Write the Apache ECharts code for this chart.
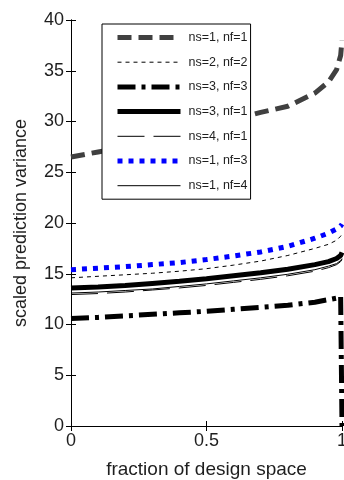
<!DOCTYPE html>
<html>
<head>
<meta charset="utf-8">
<script src="https://cdn.jsdelivr.net/npm/echarts@6/dist/echarts.min.js"></script>
<style>
  html, body { margin: 0; padding: 0; background: #fff; }
  #chart { width: 344px; height: 480px; }
</style>
</head>
<body>
<div id="chart"></div>
<script>
var fractions = [0, 0.1, 0.2, 0.3, 0.4, 0.5, 0.6, 0.7, 0.8, 0.9, 0.95, 0.98, 0.995, 1];

var ns1nf1 = [26.5, 27.0, 27.5, 28.1, 28.8, 29.5, 30.2, 30.9, 31.5, 32.8, 33.9, 35.1, 36.5, 38.0];
var ns2nf2 = [14.6, 14.75, 14.9, 15.05, 15.25, 15.5, 15.85, 16.25, 16.8, 17.5, 17.9, 18.3, 18.7, 18.9];
var ns3nf3 = [10.6, 10.7, 10.85, 11.0, 11.15, 11.3, 11.5, 11.7, 11.9, 12.2, 12.45, 12.6, 12.8, 0];
var ns3nf1 = [13.6, 13.7, 13.85, 14.05, 14.25, 14.5, 14.8, 15.1, 15.45, 15.9, 16.2, 16.5, 16.8, 17.1];
var ns4nf1 = [12.95, 13.05, 13.2, 13.4, 13.6, 13.85, 14.15, 14.45, 14.8, 15.25, 15.6, 15.9, 16.2, 16.4];
var ns1nf3 = [15.4, 15.55, 15.7, 15.9, 16.1, 16.4, 16.75, 17.15, 17.7, 18.5, 19.0, 19.4, 19.7, 19.9];
var ns1nf4 = [13.1, 13.2, 13.35, 13.5, 13.75, 14.0, 14.3, 14.6, 14.95, 15.4, 15.75, 16.0, 16.3, 16.5];

var seriesNames = ['ns=1, nf=1', 'ns=2, nf=2', 'ns=3, nf=3', 'ns=3, nf=1', 'ns=4, nf=1', 'ns=1, nf=3', 'ns=1, nf=4'];
var seriesValues = [ns1nf1, ns2nf2, ns3nf3, ns3nf1, ns4nf1, ns1nf3, ns1nf4];

// line look per series, same order as seriesNames
var lineLooks = [
  { color: '#404040', width: 5, type: [14, 7] },
  { color: '#000', width: 1, type: [4, 4] },
  { color: '#000', width: 5, type: [18, 6, 4, 6] },
  { color: '#000', width: 5, type: 'solid' },
  { color: '#000', width: 1, type: [27, 9] },
  { color: '#0000ff', width: 5, type: [5, 6] },
  { color: '#000', width: 1, type: 'solid' }
];

var ink = '#1e1e1e';
var font = 'Arial, "Liberation Sans", sans-serif';

function pairs(vals) {
  return fractions.map(function(f, i) { return [f, vals[i]]; });
}

var series = seriesNames.map(function(name, i) {
  var look = lineLooks[i];
  return {
    name: name,
    type: 'line',
    data: pairs(seriesValues[i]),
    symbol: 'none',
    showSymbol: false,
    lineStyle: { color: look.color, width: look.width, type: look.type },
    itemStyle: { color: look.color }
  };
});

var legendData = seriesNames.map(function(name, i) {
  var look = lineLooks[i];
  return {
    name: name,
    itemStyle: { opacity: 0 },
    lineStyle: { color: look.color, width: look.width, type: look.type }
  };
});

var chart = echarts.init(document.getElementById('chart'), null, { renderer: 'canvas' });
chart.setOption({
  animation: false,
  backgroundColor: '#fff',
  grid: { left: 71, right: 2, top: 20, bottom: 54, outerBoundsMode: 'none' },
  legend: {
    orient: 'vertical',
    left: 102,
    top: 24,
    padding: [7, 3, 7, 13],
    itemWidth: 63,
    itemHeight: 14,
    itemGap: 11.7,
    borderColor: '#000',
    borderWidth: 1,
    backgroundColor: '#fff',
    textStyle: { color: ink, fontSize: 12.5, fontFamily: font, padding: [0, 0, 0, 3] },
    data: legendData
  },
  xAxis: [{
    type: 'value',
    min: 0, max: 1, interval: 0.5,
    name: 'fraction of design space',
    nameLocation: 'middle',
    nameGap: 34,
    nameTextStyle: { color: ink, fontSize: 19, fontFamily: font },
    axisLine: { lineStyle: { color: '#000', width: 1 } },
    axisTick: { inside: true, length: 5, lineStyle: { color: '#000' } },
    axisLabel: { color: ink, fontSize: 18, fontFamily: font, margin: 6 },
    splitLine: { show: false }
  }, {
    type: 'value',
    position: 'top',
    min: 0, max: 1, interval: 0.5,
    axisLine: { lineStyle: { color: '#000', width: 1 } },
    axisTick: { inside: true, length: 5, lineStyle: { color: '#000' } },
    axisLabel: { show: false },
    splitLine: { show: false }
  }],
  yAxis: [{
    type: 'value',
    min: 0, max: 40, interval: 5,
    name: 'scaled prediction variance',
    nameLocation: 'middle',
    nameGap: 41,
    nameTextStyle: { color: ink, fontSize: 18, fontFamily: font },
    axisLine: { show: true, lineStyle: { color: '#000', width: 1 } },
    axisTick: { show: true, inside: true, length: 5, lineStyle: { color: '#000' } },
    axisLabel: { color: ink, fontSize: 18, fontFamily: font, margin: 7 },
    splitLine: { show: false }
  }, {
    type: 'value',
    position: 'right',
    min: 0, max: 40, interval: 5,
    axisLine: { show: true, lineStyle: { color: '#000', width: 1 } },
    axisTick: { show: true, inside: true, length: 5, lineStyle: { color: '#000' } },
    axisLabel: { show: false },
    splitLine: { show: false }
  }],
  series: series
});
</script>
</body>
</html>
